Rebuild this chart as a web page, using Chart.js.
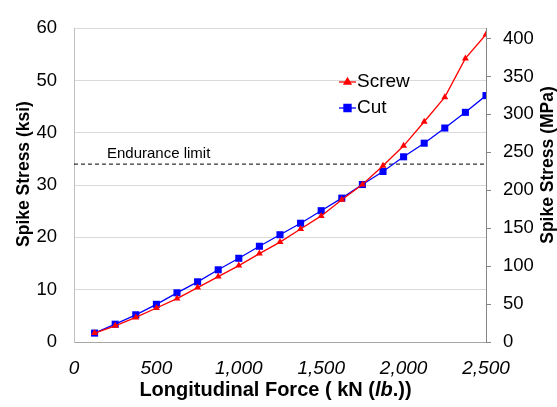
<!DOCTYPE html>
<html>
<head>
<meta charset="utf-8">
<script src="https://cdn.jsdelivr.net/npm/chart.js@4.4.1/dist/chart.umd.min.js"></script>
<style>
  html, body { margin: 0; padding: 0; background: #fff; }
  canvas { display: block; }
</style>
</head>
<body>
<canvas id="chart" width="557" height="407"></canvas>
<script>
// Longitudinal force (kN) at each load step
const forceKN = [125, 250, 375, 500, 625, 750, 875, 1000, 1125, 1250,
  1375, 1500, 1625, 1750, 1875, 2000, 2125, 2250, 2375, 2500];
// Spike stress (ksi)
const screwKsi = [1.7, 3.1, 4.7, 6.5, 8.3, 10.4, 12.5, 14.6, 16.9, 19.1,
  21.6, 24.1, 27.2, 30.1, 33.7, 37.5, 42.1, 46.8, 54.2, 58.8];
const cutKsi = [1.7, 3.4, 5.2, 7.2, 9.4, 11.5, 13.8, 16.0, 18.3, 20.5,
  22.7, 25.1, 27.5, 30.1, 32.6, 35.4, 38.0, 40.9, 43.9, 47.1];

const xTicks = [0, 500, 1000, 1500, 2000, 2500];
const ksiTicks = [0, 10, 20, 30, 40, 50, 60];
const mpaTicks = [0, 50, 100, 150, 200, 250, 300, 350, 400];

const enduranceKsi = 34;
const KSI_TO_MPA = 6.894757;
const FONT = "'Liberation Sans', Arial, sans-serif";

function setTicks(values) {
  return (scale) => { scale.ticks = values.map((v) => ({ value: v })); };
}

// legend, titles and the endurance label
const annotations = {
  id: "annotations",
  afterDraw(chart) {
    const ctx = chart.ctx;
    const xs = chart.scales.x;
    const ys = chart.scales.y;
    ctx.save();
    ctx.fillStyle = "#000";

    // endurance label
    ctx.font = `15px ${FONT}`;
    ctx.textBaseline = "middle";
    ctx.textAlign = "left";
    ctx.fillText("Endurance limit", xs.getPixelForValue(200), ys.getPixelForValue(enduranceKsi) - 10);

    // legend
    const legendRows = [{ ds: 0, y: 82 }, { ds: 1, y: 108 }];
    legendRows.forEach((row) => {
      const ds = chart.data.datasets[row.ds];
      ctx.strokeStyle = ds.borderColor;
      ctx.lineWidth = 1.3;
      ctx.beginPath();
      ctx.moveTo(339, row.y);
      ctx.lineTo(356, row.y);
      ctx.stroke();
      ctx.fillStyle = ds.backgroundColor;
      Chart.helpers.drawPoint(ctx, {
        pointStyle: ds.pointStyle, radius: ds.pointRadius, borderWidth: 1,
      }, 347.5, row.y);
      ctx.fillStyle = "#000";
      ctx.font = `19px ${FONT}`;
      ctx.textAlign = "left";
      ctx.fillText(ds.label, 357, row.y);
    });

    // axis titles
    ctx.font = `bold 17.5px ${FONT}`;
    ctx.textAlign = "center";
    ctx.save();
    ctx.translate(24, 174);
    ctx.rotate(-Math.PI / 2);
    ctx.fillText("Spike Stress (ksi)", 0, 0);
    ctx.restore();
    ctx.save();
    ctx.translate(548, 165);
    ctx.rotate(-Math.PI / 2);
    ctx.fillText("Spike Stress (MPa)", 0, 0);
    ctx.restore();

    // x title with italic "lb"
    const parts = [
      { t: "Longitudinal Force ( kN (", f: `bold 20px ${FONT}` },
      { t: "lb", f: `italic bold 20px ${FONT}` },
      { t: ".))", f: `bold 20px ${FONT}` },
    ];
    let total = 0;
    parts.forEach((p) => { ctx.font = p.f; p.w = ctx.measureText(p.t).width; total += p.w; });
    let x = 275.5 - total / 2;
    ctx.textAlign = "left";
    parts.forEach((p) => { ctx.font = p.f; ctx.fillText(p.t, x, 390); x += p.w; });
    ctx.restore();
  },
};

new Chart(document.getElementById("chart"), {
  type: "line",
  data: {
    datasets: [
      {
        label: "Screw",
        data: forceKN.map((f, i) => ({ x: f, y: screwKsi[i] })),
        borderColor: "#ff0000",
        backgroundColor: "#ff0000",
        borderWidth: 1.3,
        pointStyle: "triangle",
        pointRadius: 4,
        pointBorderWidth: 0,
      },
      {
        label: "Cut",
        data: forceKN.map((f, i) => ({ x: f, y: cutKsi[i] })),
        borderColor: "#0000ff",
        backgroundColor: "#0000ff",
        borderWidth: 1.3,
        pointStyle: "rect",
        pointRadius: 5,
        pointBorderWidth: 0,
      },
      {
        label: "Endurance limit",
        data: [{ x: 0, y: enduranceKsi }, { x: 2500, y: enduranceKsi }],
        borderColor: "#000",
        borderWidth: 1,
        borderDash: [4, 3],
        pointRadius: 0,
      },
    ],
  },
  options: {
    responsive: false,
    animation: false,
    devicePixelRatio: 1,
    layout: { padding: { top: 17, left: 0, right: 0, bottom: 0 } },
    plugins: { legend: { display: false }, tooltip: { enabled: false } },
    scales: {
      x: {
        type: "linear",
        min: 0,
        max: 2500,
        afterBuildTicks: setTicks(xTicks),
        afterFit: (s) => { s.height = 65; },
        grid: { display: false, drawTicks: false },
        border: { color: "#a6a6a6" },
        ticks: {
          color: "#000",
          padding: 15,
          font: { family: FONT, size: 19, style: "italic" },
          callback: (v) => v.toLocaleString("en-US"),
        },
      },
      y: {
        position: "left",
        min: 0,
        max: 60,
        afterBuildTicks: setTicks(ksiTicks),
        afterFit: (s) => { s.width = 74; },
        grid: { color: "#d9d9d9", drawTicks: false },
        border: { color: "#bfbfbf" },
        ticks: { color: "#000", padding: 17, font: { family: FONT, size: 18.5 } },
      },
      y2: {
        position: "right",
        min: 0,
        max: 60 * KSI_TO_MPA,
        afterBuildTicks: setTicks(mpaTicks),
        afterFit: (s) => { s.width = 71; },
        grid: { drawOnChartArea: false, color: "#868686", tickLength: 5 },
        border: { color: "#868686" },
        ticks: { color: "#000", padding: 12, font: { family: FONT, size: 18.5 } },
      },
    },
  },
  plugins: [annotations],
});
</script>
</body>
</html>
